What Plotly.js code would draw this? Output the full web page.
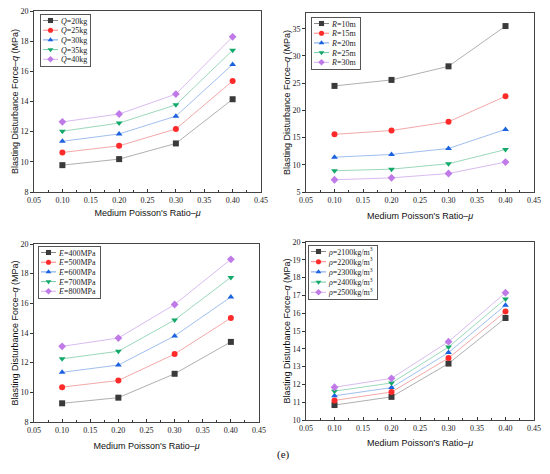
<!DOCTYPE html>
<html>
<head>
<meta charset="utf-8">
<script src="https://cdn.plot.ly/plotly-3.0.1.min.js"></script>
<style>html,body{margin:0;padding:0;background:#fff}#chart{width:550px;height:474px}</style>
</head>
<body>
<div id="chart"></div>
<script>
// Shared x values (Poisson's ratio)
var mu = [0.10, 0.20, 0.30, 0.40];

// Panel 1: charge Q
var qLabels = ['<i>Q</i>=20kg', '<i>Q</i>=25kg', '<i>Q</i>=30kg', '<i>Q</i>=35kg', '<i>Q</i>=40kg'];
var qQ20 = [9.78, 10.18, 11.22, 14.15];
var qQ25 = [10.62, 11.06, 12.18, 15.36];
var qQ30 = [11.36, 11.85, 13.03, 16.46];
var qQ35 = [12.03, 12.57, 13.78, 17.40];
var qQ40 = [12.65, 13.17, 14.49, 18.29];

// Panel 2: distance R
var rLabels = ['<i>R</i>=10m', '<i>R</i>=15m', '<i>R</i>=20m', '<i>R</i>=25m', '<i>R</i>=30m'];
var qR10 = [24.5, 25.6, 28.1, 35.5];
var qR15 = [15.6, 16.3, 17.9, 22.6];
var qR20 = [11.4, 11.9, 13.0, 16.5];
var qR25 = [8.9, 9.2, 10.2, 12.8];
var qR30 = [7.25, 7.6, 8.4, 10.5];

// Panel 3: elastic modulus E
var eLabels = ['<i>E</i>=400MPa', '<i>E</i>=500MPa', '<i>E</i>=600MPa', '<i>E</i>=700MPa', '<i>E</i>=800MPa'];
var qE400 = [9.26, 9.64, 11.25, 13.40];
var qE500 = [10.35, 10.80, 12.58, 15.01];
var qE600 = [11.35, 11.84, 13.80, 16.43];
var qE700 = [12.26, 12.77, 14.88, 17.75];
var qE800 = [13.10, 13.66, 15.92, 18.97];

// Panel 4: density rho
var dLabels = ['<i>ρ</i>=2100kg/m<sup>3</sup>', '<i>ρ</i>=2200kg/m<sup>3</sup>', '<i>ρ</i>=2300kg/m<sup>3</sup>', '<i>ρ</i>=2400kg/m<sup>3</sup>', '<i>ρ</i>=2500kg/m<sup>3</sup>'];
var qD2100 = [10.84, 11.30, 13.17, 15.73];
var qD2200 = [11.10, 11.57, 13.48, 16.09];
var qD2300 = [11.36, 11.82, 13.79, 16.45];
var qD2400 = [11.62, 12.08, 14.10, 16.80];
var qD2500 = [11.84, 12.34, 14.40, 17.15];

var markerColors = ['#3a3a3a', '#ff2b2b', '#1a62e0', '#12a86a', '#c07ae8'];
var lineColors = ['#b0b0b0', '#f4a8a8', '#a0bfee', '#9cd8bc', '#d8bcf0'];
var symbols = ['square', 'circle', 'triangle-up', 'triangle-down', 'diamond'];

var panels = [
  {labels: qLabels, series: [qQ20, qQ25, qQ30, qQ35, qQ40]},
  {labels: rLabels, series: [qR10, qR15, qR20, qR25, qR30]},
  {labels: eLabels, series: [qE400, qE500, qE600, qE700, qE800]},
  {labels: dLabels, series: [qD2100, qD2200, qD2300, qD2400, qD2500]}
];

var traces = [];
panels.forEach(function (p, pi) {
  var sfx = pi === 0 ? '' : String(pi + 1);
  p.series.forEach(function (ys, si) {
    traces.push({
      x: mu, y: ys, name: p.labels[si], type: 'scatter', mode: 'lines+markers',
      xaxis: 'x' + sfx, yaxis: 'y' + sfx, legend: 'legend' + sfx,
      line: {color: lineColors[si], width: 1},
      marker: {color: markerColors[si], symbol: symbols[si], size: 6}
    });
  });
});

var tickFont = {family: '"Liberation Serif", "Times New Roman", serif', size: 8, color: '#222'};
var titleFont = {family: '"Liberation Sans", Arial, sans-serif', size: 9, color: '#111'};
var xTitle = 'Medium Poisson\'s Ratio–<i>μ</i>';
var yTitle = 'Blasting Disturbance Force–<i>q</i> (MPa)';

function xax(domain, anchor, standoff) {
  return {
    domain: domain, anchor: anchor, range: [0.05, 0.45], dtick: 0.05, tick0: 0.05,
    tickformat: '.2f', ticks: 'inside', ticklen: 3, tickcolor: '#333',
    minor: {ticks: 'inside', ticklen: 2, dtick: 0.025, tickcolor: '#333'},
    showline: true, linecolor: '#444', linewidth: 1, mirror: true, showgrid: false,
    zeroline: false, tickfont: tickFont,
    title: {text: xTitle, font: titleFont, standoff: standoff}
  };
}
function yax(domain, anchor, range, dtick) {
  return {
    domain: domain, anchor: anchor, range: range, dtick: dtick,
    ticks: 'outside', ticklen: 3, tickcolor: '#333',
    showline: true, linecolor: '#444', linewidth: 1, mirror: true, showgrid: false,
    zeroline: false, tickfont: tickFont,
    title: {text: yTitle, font: titleFont, standoff: 0}
  };
}
function leg(x, y) {
  return {
    x: x, y: y, xanchor: 'left', yanchor: 'top', xref: 'paper', yref: 'paper',
    bgcolor: 'rgba(255,255,255,0)', bordercolor: '#555', borderwidth: 1,
    font: {family: '"Liberation Serif", "Times New Roman", serif', size: 8, color: '#222'},
    tracegroupgap: 0, itemwidth: 30
  };
}

var W = 550, H = 474;
function dx(a, b) { return [a / W, b / W]; }
function dy(top, bottom) { return [1 - bottom / H, 1 - top / H]; }

var layout = {
  width: W, height: H,
  margin: {l: 0, r: 0, t: 0, b: 0},
  paper_bgcolor: '#fff', plot_bgcolor: '#fff',
  showlegend: true,
  xaxis: xax(dx(34, 261), 'y', 6),
  yaxis: yax(dy(11, 192), 'x', [8, 20], 2),
  xaxis2: xax(dx(306, 534), 'y2', 9),
  yaxis2: yax(dy(13, 192), 'x2', [5, 37.9], 5),
  xaxis3: xax(dx(34, 259), 'y3', 9),
  yaxis3: yax(dy(244, 422), 'x3', [8, 20], 2),
  xaxis4: xax(dx(306, 534), 'y4', 8),
  yaxis4: yax(dy(242, 420), 'x4', [10, 20], 1),
  legend: leg(40 / W, 1 - 14 / H),
  legend2: leg(311 / W, 1 - 17 / H),
  legend3: leg(38 / W, 1 - 246 / H),
  legend4: leg(308 / W, 1 - 245 / H),
  annotations: [{
    text: '(e)', x: 283 / W, y: 1 - 463 / H, xref: 'paper', yref: 'paper',
    showarrow: false, font: {family: '"Liberation Serif", "Times New Roman", serif', size: 11, color: '#111'}
  }]
};

// Compact the legend rows (Plotly enforces a tall minimum row height)
function compactLegends(gd) {
  var groups = gd.querySelectorAll('g.legend, g.legend2, g.legend3, g.legend4');
  groups.forEach(function (lg) {
    var items = lg.querySelectorAll('g.traces');
    var n = items.length;
    var isRho = lg.textContent.indexOf('ρ') >= 0;
    var step = isRho ? 10.2 : 9.7;
    var maxW = 0;
    items.forEach(function (it, i) {
      it.setAttribute('transform', 'translate(1,' + (6.5 + i * step) + ')');
      it.querySelectorAll('g.legendlines path').forEach(function (p) {
        p.setAttribute('d', 'M2,0h15');
        p.style.strokeWidth = '1px';
        p.style.stroke = markerColors[i % markerColors.length];
        p.style.strokeOpacity = '0.6';
      });
      it.querySelectorAll('path.scatterpts').forEach(function (p) {
        p.setAttribute('transform', 'translate(9.5,0) scale(0.85)');
      });
      it.querySelectorAll('text').forEach(function (txt) {
        txt.setAttribute('x', 20);
        txt.querySelectorAll('tspan.line').forEach(function (t) { t.setAttribute('x', 20); });
        var w = 0;
        try { w = txt.getBBox().width; } catch (e) { w = 0; }
        maxW = Math.max(maxW, w);
      });
    });
    var bg = lg.querySelector('rect.bg');
    if (bg && n) {
      bg.setAttribute('width', Math.round(20 + maxW + 4));
      bg.setAttribute('height', Math.round(n * step + 3));
    }
  });
}

var gdiv = document.getElementById('chart');
Plotly.newPlot(gdiv, traces, layout, {displayModeBar: false, staticPlot: true}).then(function (gd) {
  compactLegends(gd);
  setTimeout(function () { compactLegends(gd); }, 0);
  setTimeout(function () { compactLegends(gd); }, 100);
});
</script>
</body>
</html>
